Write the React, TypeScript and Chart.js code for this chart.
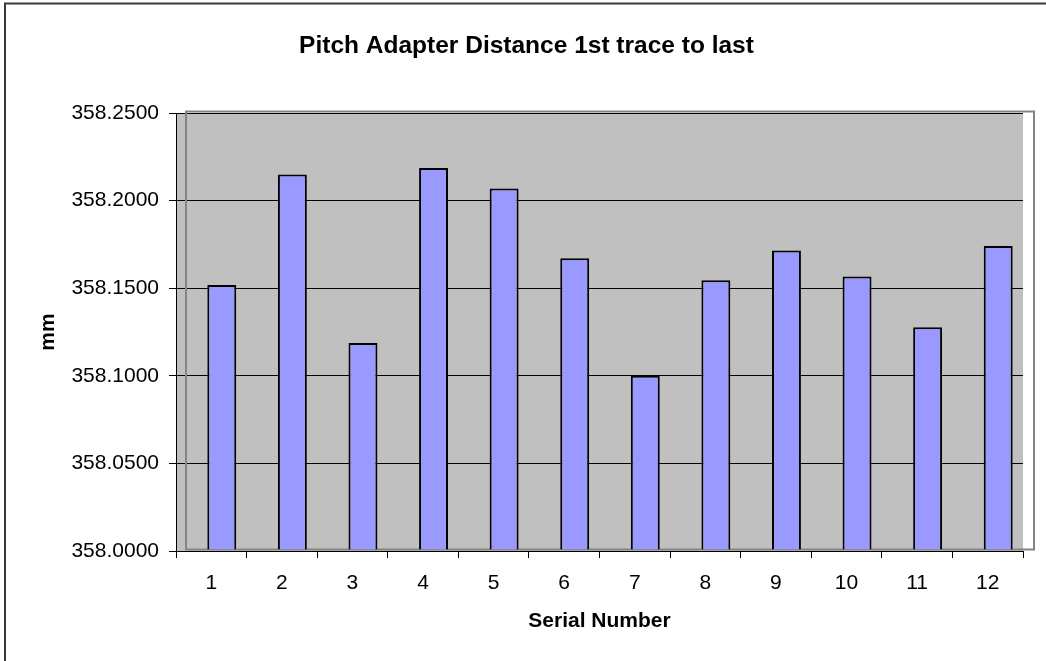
import { useEffect, useRef } from "react";
import { Chart, registerables } from "chart.js";

Chart.register(...registerables);

const categories = ["1", "2", "3", "4", "5", "6", "7", "8", "9", "10", "11", "12"];
const distances = [
  358.1513, 358.2143, 358.1181, 358.218, 358.2064, 358.1665,
  358.0994, 358.154, 358.1709, 358.1561, 358.1272, 358.1735,
];
const yTicks = [358.0, 358.05, 358.1, 358.15, 358.2, 358.25];

const FONT = "'Liberation Sans', Arial, sans-serif";

const decor = {
  id: "decor",
  beforeDraw(chart: any) {
    const { ctx, chartArea: a, width, height } = chart;
    ctx.save();
    ctx.fillStyle = "#ffffff";
    ctx.fillRect(0, 0, width, height);
    ctx.fillStyle = "#C0C0C0";
    ctx.fillRect(a.left, a.top, a.right - a.left, a.bottom - a.top);
    ctx.strokeStyle = "#3a3a3a";
    ctx.lineWidth = 2;
    ctx.strokeRect(5, 3.5, width * 2, height * 2);
    ctx.restore();
  },
  beforeDatasetsDraw(chart: any) {
    const { ctx, chartArea: a } = chart;
    ctx.save();
    ctx.strokeStyle = "#858585";
    ctx.lineWidth = 2;
    ctx.strokeRect(a.left + 10, a.top - 1.5, a.right - a.left + 1, a.bottom - a.top);
    ctx.restore();
    ctx.save();
    ctx.translate(10.5, -1);
  },
  afterDatasetsDraw(chart: any) {
    chart.ctx.restore();
  },
};

export default function App() {
  const ref = useRef<HTMLCanvasElement | null>(null);
  useEffect(() => {
    if (!ref.current) return;
    const chart = new Chart(ref.current, {
      type: "bar",
      data: {
        labels: categories,
        datasets: [
          {
            data: distances,
            base: yTicks[0],
            backgroundColor: "#9999FF",
            borderColor: "#000000",
            borderWidth: 2,
            barPercentage: 0.41,
            categoryPercentage: 1,
          } as any,
        ],
      },
      options: {
        animation: false,
        responsive: false,
        devicePixelRatio: 1,
        layout: { padding: { left: 30, right: 23, top: 0, bottom: 0 } },
        plugins: {
          legend: { display: false },
          tooltip: { enabled: false },
          title: {
            display: true,
            text: "Pitch Adapter Distance 1st trace to last",
            color: "#000",
            font: { family: FONT, size: 24.5, weight: "bold" },
            padding: { top: 32, bottom: 51.6 },
          },
        },
        scales: {
          x: {
            offset: true,
            grid: {
              offset: true,
              drawOnChartArea: false,
              drawTicks: true,
              tickLength: 7,
              color: "#000",
              lineWidth: 1,
            },
            border: { color: "#000", width: 1 },
            ticks: {
              color: "#000",
              font: { family: FONT, size: 21 },
              padding: 13,
              maxRotation: 0,
              autoSkip: false,
            },
            title: {
              display: true,
              text: "Serial Number",
              color: "#000",
              font: { family: FONT, size: 21, weight: "bold" },
              padding: { top: 0, bottom: 27.5 },
            },
            afterFit(scale: any) {
              scale.height = 110;
            },
          },
          y: {
            min: 358.0,
            max: 358.25,
            grid: {
              color: "#000",
              lineWidth: 1,
              drawTicks: true,
              tickLength: 7,
            },
            border: { color: "#000", width: 1 },
            ticks: {
              color: "#000",
              font: { family: FONT, size: 21 },
              padding: 10,
              callback: (v: any) => Number(v).toFixed(4),
            },
            afterBuildTicks(scale: any) {
              scale.ticks = yTicks.map((v) => ({ value: v }));
            },
            title: {
              display: true,
              text: "mm",
              color: "#000",
              font: { family: FONT, size: 21, weight: "bold" },
              padding: { top: 5.4, bottom: 0 },
            },
            afterFit(scale: any) {
              scale.width = 146;
            },
          },
        },
      },
      plugins: [decor],
    });
    return () => chart.destroy();
  }, []);
  return (
    <div style={{ position: "fixed", left: 0, top: 0, width: 1046, height: 661, background: "#fff" }}>
      <canvas ref={ref} width={1046} height={661} style={{ display: "block", width: 1046, height: 661 }} />
    </div>
  );
}
